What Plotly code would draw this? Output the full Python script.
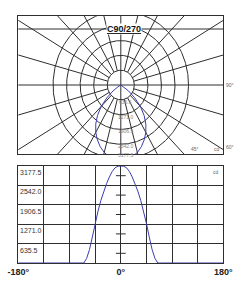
import math
import plotly.graph_objects as go

# ---------------- data ----------------
angles = [-180, -90, -70, -65, -60, -55, -50, -45, -40, -35, -30, -25, -20, -15, -10, -5,
          0, 5, 10, 15, 20, 25, 30, 35, 40, 45, 50, 55, 60, 65, 70, 90, 180]
intensity = [0, 0, 0, 0, 150, 440, 850, 1300, 1700, 2050, 2350, 2600, 2820, 3000, 3120, 3170,
             3177.5, 3170, 3120, 3000, 2820, 2600, 2350, 2050, 1700, 1300, 850, 440, 150, 0, 0, 0, 0]
ring_values = [635.5, 1271.0, 1906.5, 2542.0, 3177.5]
ring_labels = ["635.5", "1271.0", "1906.5", "2542.0", "3177.5"]
spoke_step = 15
x_tick_vals = [-180, -135, -90, -45, 0, 45, 90, 135, 180]
x_tick_text = ["<b>-180°</b>", "", "", "", "<b>0°</b>", "", "", "", "<b>180°</b>"]
title_text = "C90/270"

# ---------------- layout constants ----------------
W, H = 247, 296
BOX_L, BOX_R, BOX_T, BOX_B = 8, 232, 16, 154
CX, CY = 120, 85
TITLE_LINE = 29
K = 74 / 3177.5           # px per cd in the polar diagram
B_T, B_B = 166, 263       # bottom chart plot area
GRID = "#2e2e2e"
BLUE = "#3c3cb0"
FONT = "Arial, Liberation Sans, sans-serif"

def py(p):
    return 1 - p / H

xr = [(BOX_L - CX) / K, (BOX_R - CX) / K]
yr = [-(BOX_B - CY) / K, (CY - BOX_T) / K]
R_FAR = 20000
r_in = ring_values[0]

fig = go.Figure()

# polar grid: rings
gx, gy = [], []
for v in ring_values:
    for i in range(361):
        t = math.radians(i)
        gx.append(v * math.cos(t)); gy.append(v * math.sin(t))
    gx.append(None); gy.append(None)
# spokes
for a in range(0, 360, spoke_step):
    t = math.radians(a)
    r0 = 0 if a % 90 == 0 else r_in
    gx += [r0 * math.cos(t), R_FAR * math.cos(t), None]
    gy += [r0 * math.sin(t), R_FAR * math.sin(t), None]
fig.add_trace(go.Scatter(x=gx, y=gy, mode="lines", line=dict(color=GRID, width=1),
                         hoverinfo="skip", xaxis="x", yaxis="y"))

# polar curve (gamma measured from nadir)
px_, py_ = [], []
for g, v in zip(angles, intensity):
    t = math.radians(g)
    px_.append(v * math.sin(t)); py_.append(-v * math.cos(t))
fig.add_trace(go.Scatter(x=px_, y=py_, mode="lines", line=dict(color=BLUE, width=1),
                         xaxis="x", yaxis="y"))

# bottom linear chart
fig.add_trace(go.Scatter(x=angles, y=intensity, mode="lines", line=dict(color=BLUE, width=1),
                         xaxis="x2", yaxis="y2"))
half_steps = [v - ring_values[0] / 2 for v in ring_values]
fig.add_trace(go.Scatter(x=[0] * len(half_steps), y=half_steps, mode="markers",
                         marker=dict(symbol="line-ew", size=7, line=dict(color=GRID, width=1)),
                         xaxis="x2", yaxis="y2"))

ann = []
ann.append(dict(text="<u><b>" + title_text + "</b></u>", xref="paper", yref="paper",
                x=124 / W, y=py(23), showarrow=False, font=dict(size=9, color="#111", family=FONT),
                bgcolor="white", borderpad=0))
for v, lab in zip(ring_values, ring_labels):
    yv = -min(v, (BOX_B - CY - 1) / K)
    ann.append(dict(text=lab, xref="x", yref="y", x=0, y=yv, xshift=5, yshift=-2,
                    showarrow=False, font=dict(size=5, color="#888", family=FONT)))
ann.append(dict(text="90°", xref="x", yref="y", x=xr[1], y=0, xanchor="left", xshift=1,
                showarrow=False, font=dict(size=5, color="#666", family=FONT)))
y60 = -xr[1] / math.tan(math.radians(60))
ann.append(dict(text="60°", xref="x", yref="y", x=xr[1], y=y60, xanchor="left", xshift=1, yshift=3,
                showarrow=False, font=dict(size=5, color="#666", family=FONT)))
x45 = -yr[0] * math.tan(math.radians(45))
ann.append(dict(text="45°", xref="x", yref="y", x=x45, y=yr[0], xanchor="left", yanchor="bottom",
                xshift=5, showarrow=False, font=dict(size=5, color="#666", family=FONT)))
ann.append(dict(text="cd", xref="x", yref="y", x=xr[1], y=yr[0], xanchor="right", yanchor="bottom",
                xshift=-1, showarrow=False, font=dict(size=5, color="#666", family=FONT)))
for v, lab in zip(ring_values, ring_labels):
    ann.append(dict(text=lab, xref="x2", yref="y2", x=-180, y=v, xanchor="left", yanchor="top",
                    xshift=0, yshift=-1, showarrow=False, font=dict(size=7, color="#333", family=FONT)))
ann.append(dict(text="cd", xref="x2", yref="y2", x=180, y=ring_values[-1], xanchor="right",
                yanchor="top", xshift=-2, yshift=-1, showarrow=False,
                font=dict(size=5, color="#666", family=FONT)))

fig.update_layout(
    width=W, height=H, margin=dict(l=0, r=0, t=0, b=0),
    paper_bgcolor="white", plot_bgcolor="white", showlegend=False,
    font=dict(family=FONT),
    xaxis=dict(domain=[BOX_L / W, BOX_R / W], range=xr, showgrid=False, zeroline=False,
               showticklabels=False, ticks="", showline=True, mirror=True,
               linecolor=GRID, linewidth=1, fixedrange=True),
    yaxis=dict(domain=[py(BOX_B), py(BOX_T)], range=yr, showgrid=False, zeroline=False,
               showticklabels=False, ticks="", showline=True, mirror=True,
               linecolor=GRID, linewidth=1, fixedrange=True),
    xaxis2=dict(domain=[BOX_L / W, BOX_R / W], range=[-180, 180], anchor="y2",
                tickvals=x_tick_vals, ticktext=x_tick_text, showgrid=True, gridcolor=GRID,
                gridwidth=1, zeroline=False, showline=True, mirror=True, linecolor=GRID,
                linewidth=1, ticks="", ticklabeloverflow="allow",
                tickfont=dict(size=9, color="#222", family=FONT)),
    yaxis2=dict(domain=[py(B_B), py(B_T)], range=[0, ring_values[-1]], anchor="x2",
                tickvals=ring_values, showticklabels=False, showgrid=True, gridcolor=GRID,
                gridwidth=1, zeroline=False, showline=True, mirror=True, linecolor=GRID,
                linewidth=1, ticks=""),
    shapes=[dict(type="line", xref="paper", yref="paper", x0=BOX_L / W, x1=BOX_R / W,
                 y0=py(TITLE_LINE), y1=py(TITLE_LINE), line=dict(color=GRID, width=1))],
    annotations=ann,
)

fig.write_html("out.html")
